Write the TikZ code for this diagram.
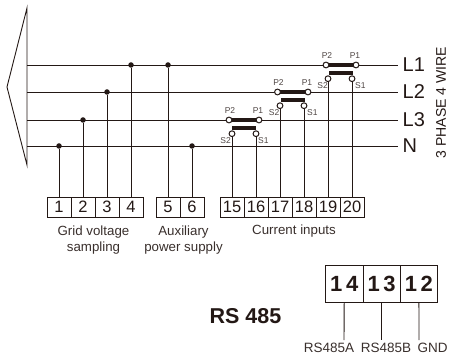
\documentclass[tikz,border=0pt]{standalone}
\usepackage{fontspec}
\setmainfont{Liberation Sans}
\definecolor{inkdark}{HTML}{231815}
\tikzset{
  wire/.style={draw=inkdark, line width=0.9pt},
  tapdot/.style={circle, fill=inkdark, inner sep=0pt, minimum size=5.5pt},
  ctpin/.style={circle, draw=inkdark, fill=white, line width=1pt, inner sep=0pt, minimum size=5.8pt},
  ctbar/.style={fill=inkdark, inner sep=0pt, minimum height=4.5pt},
  termbox/.style={draw=inkdark, line width=0.9pt, minimum width=24pt, minimum height=20pt, inner sep=0pt, font=\fontsize{16.5}{18}\selectfont, text=inkdark},
  bigbox/.style={draw=inkdark, line width=0.9pt, minimum width=37.3pt, minimum height=37pt, inner sep=0pt, font=\fontsize{22}{24}\selectfont\bfseries, text=inkdark},
  phase/.style={anchor=west, font=\fontsize{20}{21}\selectfont, text=inkdark, inner sep=0pt},
  tinylbl/.style={font=\fontsize{8.5}{9}\selectfont, text=inkdark!80, inner sep=0pt},
  caption/.style={font=\fontsize{13.3}{16}\selectfont, text=inkdark!90, align=center, inner sep=0pt},
  buslbl/.style={font=\fontsize{13.5}{15}\selectfont, text=inkdark!90, inner sep=0pt}
}
\begin{document}
\begin{tikzpicture}[x=1pt,y=-1pt]
  \useasboundingbox (0,0) rectangle (449,355);

  %% bus lines
  \foreach \name/\txt/\y in {L1/L1/65, L2/L2/92, L3/L3/120, N/N/146}{
    \coordinate (bus\name) at (27,\y);
    \coordinate (end\name) at (398,\y);
    \node[phase] (lbl\name) at (402.5,\y) {\txt};
    \draw[wire] (bus\name) -- (end\name);
  }

  %% left arrow outline
  \coordinate (arrTop) at (27,8);
  \coordinate (arrTip) at (7,87);
  \coordinate (arrBot) at (27,165);
  \draw[wire] (arrTop) -- (arrTip) -- (arrBot) -- cycle;

  \node[font=\fontsize{14}{15}\selectfont, text=inkdark, rotate=90, inner sep=0pt] (wiring) at (441,102.5) {3 PHASE 4 WIRE};

  %% terminals
  \foreach \n/\x in {1/59,2/83,3/107,4/131,5/168,6/192,15/232,16/256,17/280,18/304,19/328,20/352}
    \node[termbox] (t\n) at (\x,207) {\n};

  %% taps on the bus
  \foreach \n/\y in {1/146,2/120,3/92,4/65,5/65,6/146}{
    \node[tapdot] (tap\n) at (t\n |- 0,\y) {};
    \draw[wire] (tap\n) -- (t\n);
  }

  %% current transformers
  \foreach \name/\a/\b/\c/\d/\y in {ctC/15/16/229/259/120, ctB/17/18/277.5/308/92, ctA/19/20/326/356/65}{
    \node[ctbar, minimum width={\d-\c}] (\name top) at ({(\c+\d)/2},\y) {};
    \node[ctbar, minimum width=24pt] (\name low) at ({(\c+\d)/2},\y+8) {};
    \node[ctpin] (\name p2) at (\c,\y) {};
    \node[ctpin] (\name p1) at (\d,\y) {};
    \node[ctpin] (\name s2) at (t\a |- 0,\y+13.7) {};
    \node[ctpin] (\name s1) at (t\b |- 0,\y+13.7) {};
    \draw[wire] (\name s2) -- (t\a);
    \draw[wire] (\name s1) -- (t\b);
    \node[tinylbl] (\name lp2) at (\c+1,\y-9.3) {P2};
    \node[tinylbl] (\name lp1) at (\d-1,\y-9.3) {P1};
    \node[tinylbl, anchor=east] (\name ls2) at ({\c+2},\y+21) {S2};
    \node[tinylbl, anchor=west] (\name ls1) at ({\d-1},\y+21) {S1};
  }

  %% captions
  \node[caption] (capgrid) at (93.5,240) {Grid voltage\\sampling};
  \node[caption] (capaux) at (183.5,240) {Auxiliary\\power supply};
  \node[caption] (capcur) at (294,231.5) {Current inputs};

  %% RS 485 block
  \node[bigbox] (t14) at (344.3,283.8) {1\,4};
  \node[bigbox] (t13) at (381.6,283.8) {1\,3};
  \node[bigbox] (t12) at (418.9,283.8) {1\,2};
  \node[font=\fontsize{21.5}{23}\selectfont\bfseries, text=inkdark, inner sep=0pt] (rslbl) at (245.5,316.5) {RS 485};
  \node[buslbl] (busA) at (329,348) {RS485A};
  \node[buslbl] (busB) at (386,348) {RS485B};
  \node[buslbl] (busG) at (432.5,348) {GND};
  \coordinate (endA) at (344,340);
  \coordinate (endB) at (381.6,340);
  \coordinate (endG) at (419,340);
  \draw[wire] (t14) -- (endA);
  \draw[wire] (t13) -- (endB);
  \draw[wire] (t12) -- (endG);
\end{tikzpicture}
\end{document}
